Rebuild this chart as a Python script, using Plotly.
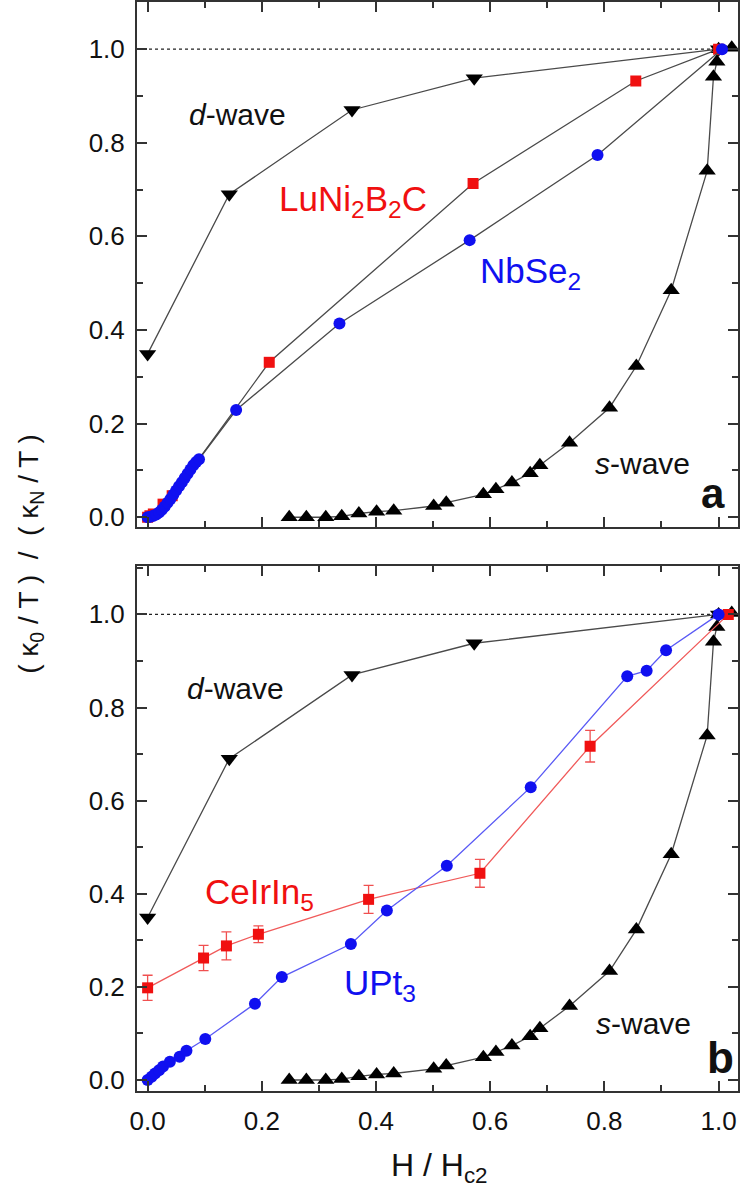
import plotly.graph_objects as go

# ---------------- data ----------------
# d-wave (theory), same in both panels
dwave_x = [0.0, 0.143, 0.358, 0.572, 1.0]
dwave_y = [0.349, 0.690, 0.870, 0.938, 1.0]

# s-wave (Nb), same in both panels
swave_x = [0.248, 0.278, 0.312, 0.340, 0.370, 0.401, 0.431, 0.501, 0.523, 0.588, 0.610,
           0.638, 0.670, 0.687, 0.739, 0.809, 0.856, 0.917, 0.980, 0.991, 0.997, 1.0, 1.023]
swave_y = [0.0, 0.0, 0.0, 0.002, 0.008, 0.012, 0.014, 0.024, 0.031, 0.049, 0.060,
           0.074, 0.094, 0.111, 0.159, 0.234, 0.323, 0.485, 0.740, 0.941, 0.973, 1.0, 1.003]

# panel a
luni_x = [0.0, 0.004, 0.010, 0.027, 0.043, 0.213, 0.570, 0.855, 1.0]
luni_y = [0.0, 0.003, 0.007, 0.028, 0.046, 0.331, 0.713, 0.932, 1.0]

nbse_x = [0.0, 0.005, 0.010, 0.015, 0.020, 0.025, 0.030, 0.035, 0.040, 0.045, 0.050,
          0.055, 0.060, 0.065, 0.070, 0.075, 0.080, 0.085, 0.090, 0.155, 0.336, 0.564,
          0.788, 1.006]
nbse_y = [0.0, 0.001, 0.003, 0.006, 0.010, 0.016, 0.023, 0.031, 0.039, 0.048, 0.057,
          0.066, 0.075, 0.084, 0.093, 0.102, 0.111, 0.118, 0.124, 0.229, 0.414, 0.592,
          0.774, 1.0]

# panel b
ceir_x = [0.0, 0.098, 0.138, 0.194, 0.387, 0.582, 0.775, 1.017]
ceir_y = [0.198, 0.262, 0.288, 0.313, 0.388, 0.444, 0.717, 1.0]
ceir_err = [0.027, 0.027, 0.030, 0.018, 0.030, 0.030, 0.034, 0.0]

upt_x = [0.0, 0.007, 0.013, 0.020, 0.027, 0.039, 0.056, 0.068, 0.101, 0.188, 0.235,
         0.356, 0.419, 0.524, 0.671, 0.840, 0.874, 0.908, 1.0]
upt_y = [0.0, 0.007, 0.014, 0.021, 0.029, 0.039, 0.050, 0.063, 0.088, 0.164, 0.221,
         0.292, 0.364, 0.460, 0.629, 0.867, 0.879, 0.923, 1.0]

x_tick_vals = [0.0, 0.2, 0.4, 0.6, 0.8, 1.0]
y_tick_vals = [0.0, 0.2, 0.4, 0.6, 0.8, 1.0]

# ---------------- styling ----------------
FONT = "Liberation Sans, Arial, Helvetica, sans-serif"
RED = "#f01010"
BLUE = "#1010f0"
GREY = "#4a4a4a"

fig = go.Figure()


def add_set(xs, ys, xa, ya, color, symbol, size, linecolor, err=None):
    kw = {}
    if err is not None:
        kw["error_y"] = dict(type="data", array=err, visible=True, color="#f05050",
                             thickness=1.3, width=5)
    fig.add_trace(go.Scatter(
        x=xs, y=ys, xaxis=xa, yaxis=ya, mode="lines+markers",
        line=dict(color=linecolor, width=1.3),
        marker=dict(symbol=symbol, size=size, color=color, line=dict(width=0)),
        showlegend=False, **kw))


for xa, ya in (("x", "y"), ("x2", "y2")):
    add_set(dwave_x, dwave_y, xa, ya, "black", "triangle-down", 15, GREY)
    add_set(swave_x, swave_y, xa, ya, "black", "triangle-up", 15, GREY)

add_set(luni_x, luni_y, "x", "y", RED, "square", 11, GREY)
add_set(nbse_x, nbse_y, "x", "y", BLUE, "circle", 12, GREY)

add_set(ceir_x, ceir_y, "x2", "y2", RED, "square", 11, "#f05a5a", err=ceir_err)
add_set(upt_x, upt_y, "x2", "y2", BLUE, "circle", 12, "#5a5af5")

XR = [-0.0186, 1.034]

shapes = []
for xr, yr in (("x", "y"), ("x2", "y2")):
    shapes.append(dict(type="line", xref=xr, yref=yr, x0=XR[0], x1=1.0, y0=1.0, y1=1.0,
                       line=dict(color="#222", width=1.3, dash="dot"), layer="below"))


def axis(**kw):
    d = dict(showline=True, linecolor="#333", linewidth=2, mirror="ticks",
             ticks="inside", ticklen=10, tickwidth=2, tickcolor="#333",
             minor=dict(ticks="inside", ticklen=6, tickwidth=2, tickcolor="#333", dtick=0.1),
             showgrid=False, zeroline=False, tickformat=".1f",
             tickfont=dict(family=FONT, size=26, color="#111"))
    d.update(kw)
    return d


fig.update_layout(
    width=740, height=1191,
    margin=dict(l=137, r=0, t=1, b=100),
    paper_bgcolor="white", plot_bgcolor="white",
    shapes=shapes,
    xaxis=axis(domain=[0, 1], range=XR, anchor="y", tickvals=x_tick_vals,
               showticklabels=False),
    yaxis=axis(domain=[0.5177, 1.0], range=[-0.0213, 1.1007], anchor="x",
               tickvals=y_tick_vals, ticklabelstandoff=5),
    xaxis2=axis(domain=[0, 1], range=XR, anchor="y2", tickvals=x_tick_vals,
                ticklabelstandoff=6),
    yaxis2=axis(domain=[0.0, 0.4817], range=[-0.0236, 1.103], anchor="x2",
                tickvals=y_tick_vals, ticklabelstandoff=5),
)

ann = []


def label(text, x, y, xr, yr, size, color="#111", **kw):
    ann.append(dict(text=text, x=x, y=y, xref=xr, yref=yr, showarrow=False,
                    font=dict(family=FONT, size=size, color=color),
                    xanchor="center", yanchor="middle", **kw))


# panel a labels
label("<i>d</i>-wave", 0.157, 0.861, "x", "y", 30)
label("LuNi<sub>2</sub>B<sub>2</sub>C", 0.360, 0.675, "x", "y", 35, RED)
label("NbSe<sub>2</sub>", 0.670, 0.522, "x", "y", 35, BLUE)
label("<i>s</i>-wave", 0.867, 0.114, "x", "y", 30)
label("<b>a</b>", 0.99, 0.050, "x", "y", 42, "#111")

# panel b labels
label("<i>d</i>-wave", 0.154, 0.841, "x2", "y2", 30)
label("CeIrIn<sub>5</sub>", 0.196, 0.400, "x2", "y2", 35, RED)
label("UPt<sub>3</sub>", 0.407, 0.205, "x2", "y2", 35, BLUE)
label("<i>s</i>-wave", 0.868, 0.122, "x2", "y2", 30)
label("<b>b</b>", 1.004, 0.048, "x2", "y2", 44, "#111")

# axis titles
label("H / H<sub>c2</sub>", 0.5025, -0.0706, "paper", "paper", 32)
label("( κ<sub>0</sub> / T )  /  ( κ<sub>N</sub> / T )", -0.1774, 0.4936, "paper", "paper",
      28, textangle=-90)

fig.update_layout(annotations=ann)

fig.write_html("out.html")
